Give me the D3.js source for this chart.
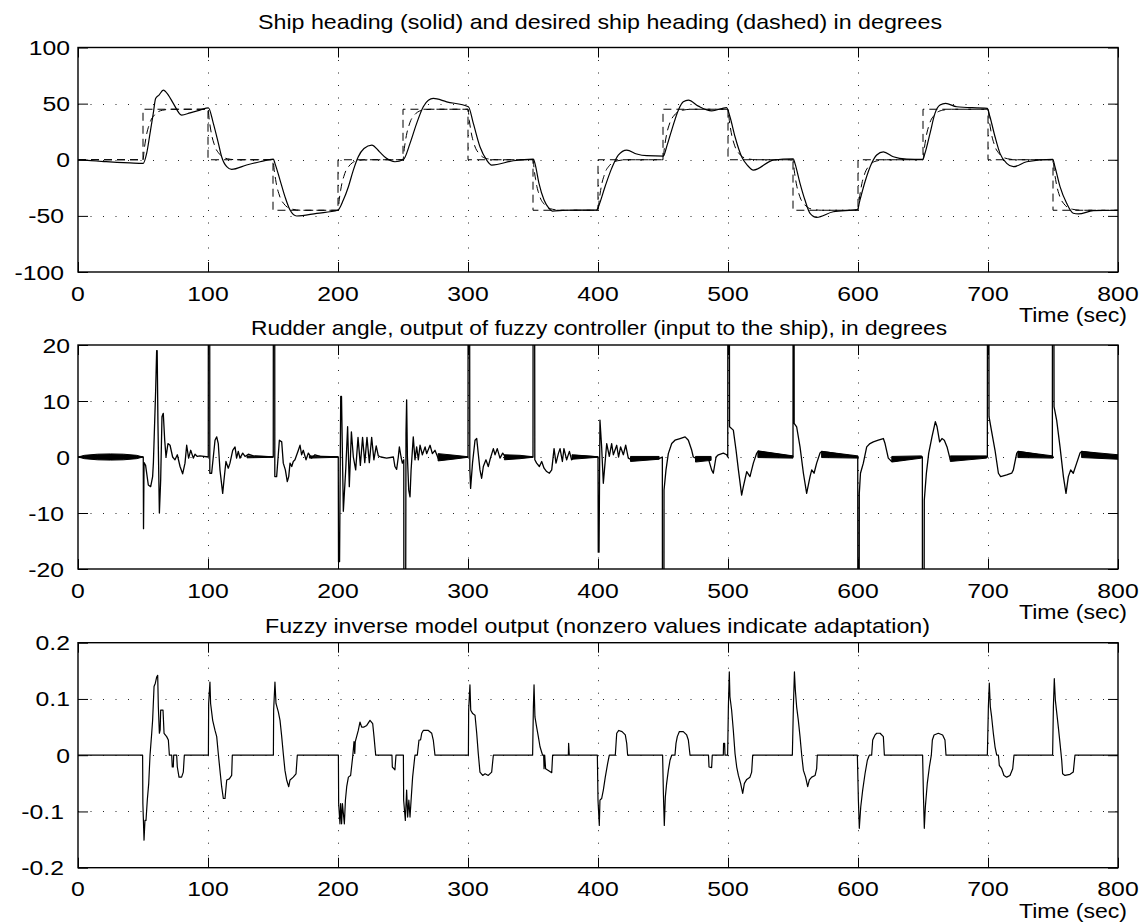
<!DOCTYPE html>
<html><head><meta charset="utf-8">
<script src="https://cdn.jsdelivr.net/npm/d3@7"></script>
<style>
body{margin:0;background:#fff}
svg{display:block}
text{font-family:"Liberation Sans",Arial,Helvetica,sans-serif;fill:#000}
</style>
</head><body>
<svg id="c" width="1140" height="924"></svg>
<script>
// ---------------- DATA ----------------
const xTicks = [0,100,200,300,400,500,600,700,800];
const xTickLabels = ["0","100","200","300","400","500","600","700","800"];
const headingTicks = [-100,-50,0,50,100];
const headingTickLabels = ["-100","-50","0","50","100"];
const rudderTicks = [-20,-10,0,10,20];
const rudderTickLabels = ["-20","-10","0","10","20"];
const inverseTicks = [-0.2,-0.1,0,0.1,0.2];
const inverseTickLabels = ["-0.2","-0.1","0","0.1","0.2"];
const titles = [
  "Ship heading (solid) and desired ship heading (dashed) in degrees",
  "Rudder angle, output of fuzzy controller (input to the ship), in degrees",
  "Fuzzy inverse model output (nonzero values indicate adaptation)"
];
const xAxisLabel = "Time (sec)";

// commanded heading (step changes)
const cmdTimes  = [0,50,100,150,200,250,300,350,400,450,500,550,600,650,700,750,800];
const cmdLevels = [0,45,0,-45,0,45,0,-45,0,45,0,-45,0,45,0,-45,-45];

// reference model output (desired heading)
const refModel = [
[0,0],[50,0],[51,9.9],[52,17.6],[53,23.9],[54.5,30.2],[56,35.1],[58,38.7],[61,42.3],[65,44.1],[72,45],
[100,45],[101,35.1],[102,27.4],[103,21.1],[104.5,14.8],[106,9.9],[108,6.3],[111,2.7],[115,0.9],[122,0],
[150,0],[151,-9.9],[152,-17.6],[153,-23.9],[154.5,-30.2],[156,-35.1],[158,-38.7],[161,-42.3],[165,-44.1],[172,-45],
[200,-45],[201,-35.1],[202,-27.4],[203,-21.1],[204.5,-14.8],[206,-9.9],[208,-6.3],[211,-2.7],[215,-0.9],[222,0],
[250,0],[251,9.9],[252,17.6],[253,23.9],[254.5,30.2],[256,35.1],[258,38.7],[261,42.3],[265,44.1],[272,45],
[300,45],[301,35.1],[302,27.4],[303,21.1],[304.5,14.8],[306,9.9],[308,6.3],[311,2.7],[315,0.9],[322,0],
[350,0],[351,-9.9],[352,-17.6],[353,-23.9],[354.5,-30.2],[356,-35.1],[358,-38.7],[361,-42.3],[365,-44.1],[372,-45],
[400,-45],[401,-35.1],[402,-27.4],[403,-21.1],[404.5,-14.8],[406,-9.9],[408,-6.3],[411,-2.7],[415,-0.9],[422,0],
[450,0],[451,9.9],[452,17.6],[453,23.9],[454.5,30.2],[456,35.1],[458,38.7],[461,42.3],[465,44.1],[472,45],
[500,45],[501,35.1],[502,27.4],[503,21.1],[504.5,14.8],[506,9.9],[508,6.3],[511,2.7],[515,0.9],[522,0],
[550,0],[551,-9.9],[552,-17.6],[553,-23.9],[554.5,-30.2],[556,-35.1],[558,-38.7],[561,-42.3],[565,-44.1],[572,-45],
[600,-45],[601,-35.1],[602,-27.4],[603,-21.1],[604.5,-14.8],[606,-9.9],[608,-6.3],[611,-2.7],[615,-0.9],[622,0],
[650,0],[651,9.9],[652,17.6],[653,23.9],[654.5,30.2],[656,35.1],[658,38.7],[661,42.3],[665,44.1],[672,45],
[700,45],[701,35.1],[702,27.4],[703,21.1],[704.5,14.8],[706,9.9],[708,6.3],[711,2.7],[715,0.9],[722,0],
[750,0],[751,-9.9],[752,-17.6],[753,-23.9],[754.5,-30.2],[756,-35.1],[758,-38.7],[761,-42.3],[765,-44.1],[772,-45],
[800,-45]
];

// actual ship heading
const heading = [
[0,0],[10,-0.8],[20,-1.6],[30,-2.3],[40,-2.8],[50.2,-3.2],
[52.8,5.6],[55.4,23.5],[57.9,41.3],[59.7,54.6],[62.3,57.6],[65.6,62],[69.5,57.6],[73.3,50.2],[79.7,39.8],[86.2,41.8],[93.8,44.2],[100.3,46.3],
[104.1,32.4],[108,14.6],[110.5,2.7],[114.4,-6.2],[118.2,-8.6],[129.7,-4.7],[140,-1.8],[150.3,0.5],
[151.5,-3.2],[155.4,-18.1],[159.2,-32.9],[163.1,-44.8],[168.2,-50.1],[183.6,-47.7],[199.8,-45],
[204.1,-35.9],[208,-24],[211.8,-9.2],[215.6,2.7],[220,10],[226,13.1],[232,7],[237,1.5],[243.8,-1.8],[250.2,0],
[255.4,14.6],[260.5,32.4],[265.6,47.2],[269.5,53.1],[273.3,54.6],[283.6,51.6],[300.3,47.2],
[304.1,32.4],[309.2,11.6],[314.4,-0.3],[318.2,-4.7],[334.9,-0.9],[350.3,0.5],
[351.5,-3.2],[354.6,-21],[358.5,-35.9],[362.3,-43.3],[364.9,-45.7],[375.2,-45],[399,-44.8],
[400.3,-41.8],[405.4,-24],[410.5,-7.7],[415.6,4.2],[422.1,8.6],[429.8,5.1],[437.5,3.6],[450.3,3.3],
[452.8,11.6],[456.7,26.4],[461.8,44.2],[465.6,51.6],[469.5,53.1],[477.2,47.8],[487.4,43.6],[498.9,46.4],
[501.5,38.3],[505.4,20.5],[510.5,2.7],[515,-5],[519.5,-9.2],[534.8,-0.3],[550.2,0.9],
[551.5,-3.2],[555.4,-21],[559.2,-35.9],[563.1,-47.7],[568.2,-51.3],[581,-46.3],[599.5,-44.5],
[601.5,-35.9],[605.4,-19.6],[610.5,-3.2],[614.4,4.2],[619.5,7.1],[627.2,2.7],[637.5,0.6],[649.8,0.3],
[651.5,5.7],[655.4,23.5],[659.2,41.3],[663.1,48.7],[667.4,50.2],[675.9,47.2],[699.5,45.7],
[701.5,38.3],[705.4,20.5],[709.2,5.7],[714.4,-3.2],[719.5,-6.2],[729.8,-1.8],[749.8,0.3],
[751.5,-6.2],[755.4,-24],[760.5,-38.8],[765.6,-47.7],[769.5,-48.3],[781,-45.4],[800,-45]
];

// rudder angle (saturated spikes go off-scale)
const rudder = [
[0,0],[50.2,0],[50.4,-12.8],[50.8,-1],[52,-1.5],[54.1,-5],[55.9,-5.3],[57.4,-3.5],[58,-1],[58.7,4.2],[59.7,11.6],[60.5,19],[60.9,19],[61.5,6],[62.6,-10],[63.6,-4.1],[64.6,7.2],[65.6,7.8],[66.7,3],[67.7,0],[69.2,2.4],[70.8,2.1],[72.8,0],[74.6,-0.5],[76.4,0.4],[78.5,-1.7],[80.5,-3],[82.3,-1.1],[83.6,2.1],[85.1,-0.2],[86.7,1.2],[88.7,-0.2],[90,0.5],[91.8,0.1],[93.8,0.2],[100.2,0],
[100.4,80],[101.2,80],[101.4,-2.9],[102.8,-2.9],[105.4,3],[106.7,3.6],[107.9,2.4],[109.2,-2.3],[111.3,-6.5],[112.3,-4.1],[113.8,-0.8],[115.6,-2],[116.9,-1.1],[119,1.2],[120.8,1.8],[122,-0.2],[123.3,1],[124.6,-0.2],[126.7,0.7],[128.5,0.1],[131,0.5],[134.9,0.2],[150.2,0],
[150.4,80],[151.2,80],[151.4,-3.5],[152.8,-3.5],[154.9,3],[156.7,2.7],[157.9,-1.1],[159.5,-2.3],[161,-4.4],[162.1,-3.5],[163.1,-1.1],[164.4,-1.7],[165.6,-0.8],[166.9,-0.5],[169.5,1.2],[170.8,2.1],[172,0.4],[173.3,1.2],[175.4,-0.5],[177.2,0.7],[179.7,-0.2],[182.3,0.4],[186.2,0.1],[200.2,0],
[200.4,-18.7],[201.2,-18.7],[202.1,10.8],[202.7,10.8],[204.1,-9.7],[206,-2],[207.4,5.4],[208.7,-5.3],[210.3,4.5],[211.8,0],[213.6,-2.3],[215.4,3.5],[217.2,-1.5],[218.9,3.5],[220.6,-1],[222.3,3.5],[224.1,-1],[225.9,3.5],[227.6,-0.5],[229.4,2],[231,0.2],[233,0],[237.4,-0.2],[242.6,0],[243.8,-1.7],[245.1,-2.2],[246.4,0],[247.2,1.8],[248.5,0],[249.5,-1.1],[250.6,-0.5],
[250.8,-80],[251.6,-80],[252.3,4.2],[252.8,10.2],[253.4,0],[254.4,-5.9],[255.4,-7.1],[256.2,-2.4],[257.9,3.6],[259.2,-0.5],[260.5,1.8],[261.8,-0.5],[263.1,2.1],[264.9,0.4],[267,1.8],[268.2,0.6],[270.8,2.1],[272.6,0.6],[274.6,1.2],[277.2,-0.3],[300,0],
[300.2,80],[301,80],[301.4,-2],[302,-5.6],[303.5,-1],[305.4,3],[306.7,3.3],[307.9,0.6],[309.2,-2.3],[310.5,-3.8],[311.8,-1.7],[313.8,-0.5],[315.6,-1.7],[316.9,-0.5],[319.5,1.5],[320.8,0.4],[322.5,1.5],[324.6,-0.2],[326.7,0.7],[328.5,0.1],[350,0],
[350.2,80],[351,80],[351.4,-0.5],[352.8,-1.1],[354.9,-1.7],[356.7,-0.8],[358.5,-2],[360.5,-2.6],[362.6,-2.9],[364.4,-2.3],[366.2,1.5],[367.7,-1.1],[369.5,0.6],[370.8,1.5],[372.6,-0.8],[373.8,1.5],[375.9,-0.5],[378,1],[379.7,-0.5],[382,0.3],[400,0],
[400.2,-17],[400.8,-17],[401.5,6.6],[402.8,1.8],[404.1,-4.7],[405.4,-1.1],[406.7,2.4],[408.7,0.1],[410.5,2.4],[411.8,0.4],[414.4,2.1],[415.8,0],[417.4,1.8],[419.5,0.4],[421.3,2.1],[423.3,-0.2],[425.9,-0.5],[447,-0.3],[449.5,0],
[449.7,-80],[450.5,-80],[450.8,-5.9],[452.3,-2.3],[454.1,0.6],[456.7,2.4],[459.2,3],[463.1,3.3],[467,3.6],[469.5,3],[472.1,1.2],[473.3,0],[475.9,-0.3],[484.9,-0.3],[487.4,-2.3],[488.7,-2.9],[490.8,0],[492.6,0.4],[496.4,0.7],[499,0.4],[499.8,0],
[500,80],[500.8,80],[501.2,5.4],[504.1,4.8],[506.2,1.2],[508,-2.3],[510.5,-6.8],[511.8,-5.3],[514.4,-2.6],[516.9,-3.5],[519.5,-1.1],[522.1,0.7],[523.3,1],[550,0.1],
[550.2,80],[550.7,80],[550.9,6],[552.8,5.4],[555.4,1.8],[558,-2.9],[560.5,-6.5],[563.1,-3.5],[564.4,-2.3],[566.2,-2.9],[568.2,-1.1],[570.8,0.7],[572.1,1],[599.8,0],
[600,-80],[600.7,-80],[601,-6.5],[601.9,-2.9],[604.1,-1.1],[606.7,1.8],[609.2,2.4],[611.8,2.7],[615.6,3],[619.5,3.3],[620.8,2.4],[623.3,-0.2],[625.9,-0.8],[649.5,0],
[649.7,-80],[650.4,-80],[651,-7.7],[652.6,-2.9],[654.4,0.7],[656.9,3.6],[659.5,6.3],[660.8,5.4],[662.8,2.7],[664.6,3.3],[666.4,3],[668.5,1.8],[671,-0.5],[699.5,0],
[699.7,80],[700.4,80],[700.8,7.2],[702.6,4.8],[705.4,1.2],[708,-2.9],[709.7,-3.5],[714.4,-3.2],[718.2,-2.9],[719.5,-2.3],[722.1,0.7],[723.3,1],[749.5,0],
[749.7,80],[750.4,80],[750.8,9],[752.8,6.6],[755.4,1.8],[758,-3.5],[760,-6.5],[761.8,-3.5],[763.6,-2.3],[765.6,-2.9],[768.2,-1.1],[770.8,0.7],[772.1,1],[800,0]
];

// fast rudder chatter envelopes: [time, low, high]
const rudderBands = [
 [[0,0,0],[5,-0.3,0.3],[15,-0.5,0.5],[25,-0.55,0.55],[35,-0.5,0.5],[45,-0.3,0.3],[50,0,0]],
 [[130,-0.15,0.2],[150,-0.05,0.05]],
 [[178,-0.2,0.2],[200,-0.05,0.05]],
 [[277,-0.7,0.6],[290,-0.35,0.3],[300,-0.05,0.05]],
 [[328,-0.5,0.4],[340,-0.3,0.3],[350,-0.05,0.05]],
 [[380,-0.4,0.4],[400,-0.05,0.05]],
 [[425,-0.8,0.1],[447,-0.4,0.1]],
 [[475,-0.9,0.1],[487,-0.6,0.1]],
 [[523,-0.1,1.1],[550,-0.2,0.2]],
 [[572,-0.1,1.0],[600,-0.2,0.2]],
 [[626,-0.9,0.1],[649,-0.2,0.2]],
 [[671,-0.8,0.2],[699,-0.2,0.2]],
 [[723,-0.1,1.0],[750,-0.2,0.2]],
 [[772,-0.1,1.0],[800,-0.4,0.4]]
];

// fuzzy inverse model output
const inverse = [
[0,0],[49.7,0],[49.9,-0.086],[50.8,-0.151],[51.5,-0.116],[52.3,-0.116],[53.3,-0.08],[54.4,-0.05],[55.4,0],[56.7,0.039],[57.4,0.062],[58.5,0.122],[59.5,0.128],[60.5,0.139],[61.3,0.142],[61.8,0.086],[62.6,0.039],[63.2,0.045],[63.6,0.08],[65.4,0.08],[66.2,0.039],[68.2,0.033],[69.5,0.027],[70.3,0],[72.1,0],[72.5,-0.021],[73.3,-0.021],[73.6,0],[75.9,0],[76.4,-0.021],[77.7,-0.039],[79.7,-0.039],[81,-0.03],[81.8,0],
[100.3,0],[100.5,0.092],[101.5,0.13],[102,0.092],[103.6,0.062],[105.4,0.044],[106.7,0.033],[107.9,0.003],[109.2,-0.027],[110.5,-0.056],[111.8,-0.077],[113.1,-0.077],[114.4,-0.044],[116.4,-0.042],[118.2,-0.036],[118.7,0],
[150.3,0],[150.5,0.08],[151.5,0.13],[152.3,0.092],[154.1,0.077],[155.4,0.062],[156.7,0.033],[157.9,0.003],[159.2,-0.027],[160.5,-0.044],[162.1,-0.056],[163.1,-0.044],[165.6,-0.039],[167.7,-0.033],[168.7,0],
[200.3,0],[200.5,-0.086],[201.5,-0.122],[202,-0.086],[202.8,-0.122],[203.4,-0.086],[204.9,-0.122],[205.7,-0.08],[206.7,-0.056],[208,-0.039],[209.7,-0.036],[211.3,-0.003],[212.3,0.024],[212.9,0.003],[213.3,0.024],[215.6,0.044],[216.9,0.059],[218.2,0.05],[220,0.05],[222.1,0.053],[224.6,0.062],[226.7,0.056],[227.7,0.033],[229,0],
[241.5,0],[241.8,-0.021],[243.8,-0.026],[244.6,0],
[250.3,0],[250.5,-0.08],[251.8,-0.116],[252.8,-0.062],[253.6,-0.11],[254.5,-0.08],[255.4,-0.11],[256.4,-0.074],[257.4,-0.039],[258.5,-0.015],[259.2,0],[261,0],[262.3,0.027],[263.5,0.027],[264.4,0.039],[265.6,0.044],[269.5,0.044],[272.1,0.039],[273.3,0.027],[274.6,0],
[300.3,0],[300.5,0.08],[301.5,0.125],[302.1,0.08],[303.6,0.074],[305.4,0.071],[306.7,0.039],[307.9,0.003],[309.2,-0.03],[311.3,-0.036],[313.1,-0.033],[315.6,-0.036],[318.2,-0.03],[319.5,0],
[349.7,0],[350.3,0.086],[350.8,0.125],[351.5,0.068],[352.8,0.05],[354.1,0.033],[355.4,0.015],[357.4,0],[358.2,0],[358.5,-0.024],[359,0],[359.7,-0.024],[361.8,-0.027],[364.4,-0.031],[365.1,0],
[377.2,0],[377.4,0.021],[377.9,0],
[399.5,0],[400,-0.08],[401,-0.125],[401.5,-0.08],[402.8,-0.077],[404.1,-0.062],[405.6,-0.039],[407.4,-0.015],[408.7,0],[413.3,0],[414.4,0.039],[416,0.044],[418.5,0.042],[421,0.036],[422.1,0.021],[422.8,0],
[449.7,0],[450.3,-0.068],[451,-0.125],[451.8,-0.074],[452.8,-0.05],[454.1,-0.027],[455.4,-0.009],[456.7,0],[459.2,0],[460,0.021],[461,0.033],[462.6,0.042],[465.6,0.042],[468.2,0.036],[469.5,0.027],[470.8,0],
[485,0],[485.4,-0.021],[487.4,-0.022],[487.9,0],
[496.4,0],[496.6,0.021],[497.4,0.021],[497.7,0],
[499.7,0],[500.3,0.086],[501,0.148],[501.5,0.104],[502.8,0.08],[504.1,0.044],[505.4,0.003],[506.7,-0.021],[508,-0.036],[509.7,-0.05],[511.3,-0.068],[512.6,-0.05],[514.4,-0.043],[516.9,-0.039],[518.2,-0.03],[519,0],
[549.5,0],[550.3,0.086],[551.1,0.148],[551.8,0.116],[552.8,0.086],[554.1,0.062],[555.4,0.033],[556.7,0],[558,-0.027],[559.7,-0.039],[561.3,-0.056],[562.6,-0.044],[564.4,-0.039],[567,-0.036],[568.2,-0.024],[568.7,0],
[599.5,0],[600.3,-0.08],[601,-0.13],[602.1,-0.092],[603.6,-0.062],[605.4,-0.033],[607.2,-0.009],[608.7,0],[610.5,0],[611.3,0.027],[613.1,0.036],[614.4,0.039],[617,0.039],[619.5,0.033],[620.3,0],
[649.7,0],[650.3,-0.068],[651,-0.13],[651.8,-0.092],[653.3,-0.05],[654.9,-0.021],[656.4,0],[657.2,0.027],[658.5,0.036],[661.8,0.039],[665.1,0.036],[666.9,0.027],[667.7,0],
[699.5,0],[700.3,0.086],[701,0.128],[701.8,0.086],[702.8,0.068],[704.1,0.039],[705.4,0.015],[706.7,0],[708,0],[708.7,-0.018],[710.5,-0.024],[712.3,-0.036],[714.4,-0.039],[716.9,-0.036],[719,-0.024],[720,0],
[749.7,0],[750.3,0.086],[751,0.136],[751.8,0.098],[752.8,0.077],[754.1,0.05],[755.4,0.021],[756.7,-0.009],[757.4,-0.033],[759.2,-0.036],[763.1,-0.034],[765.6,-0.03],[766.9,0],
[800,0]
];

// ---------------- DRAWING ----------------
const svg = d3.select("#c");
const L = 78, R = 1118;
const x = d3.scaleLinear().domain([0,800]).range([L,R]);

const panels = [
  {top:47.5, bottom:272, ticks:headingTicks, labels:headingTickLabels, title:titles[0], titleX:258, titleLen:684, titleY:29},
  {top:345,  bottom:569, ticks:rudderTicks,  labels:rudderTickLabels,  title:titles[1], titleX:251, titleLen:696, titleY:335},
  {top:642.7,bottom:867.7,ticks:inverseTicks,labels:inverseTickLabels, title:titles[2], titleX:265, titleLen:665, titleY:633}
];

const FS = 21, SX = 1.18;

panels.forEach((p,i)=>{
  const y = d3.scaleLinear().domain([p.ticks[0], p.ticks[p.ticks.length-1]]).range([p.bottom,p.top]);
  p.y = y;
  const g = svg.append("g");

  const cid = "clip"+i;
  svg.append("clipPath").attr("id",cid).append("rect")
    .attr("x",L).attr("y",p.top).attr("width",R-L).attr("height",p.bottom-p.top);

  // grid
  const grid = g.append("g").attr("stroke","#000").attr("stroke-width",1).attr("stroke-dasharray","1,11.5").attr("opacity",0.85);
  xTicks.slice(1,-1).forEach(t=>{
    grid.append("line").attr("x1",Math.round(x(t))+0.5).attr("x2",Math.round(x(t))+0.5).attr("y1",p.top).attr("y2",p.bottom);
  });
  p.ticks.slice(1,-1).forEach(v=>{
    grid.append("line").attr("y1",Math.round(y(v))+0.5).attr("y2",Math.round(y(v))+0.5).attr("x1",L).attr("x2",R);
  });

  const data = g.append("g").attr("clip-path",`url(#${cid})`);
  p.data = data;

  // inward ticks on all four sides
  const mk = (axis, tr) => {
    const a = g.append("g").attr("transform",tr).call(axis);
    a.select(".domain").remove();
    a.selectAll("line").attr("stroke","#000").attr("stroke-width",1);
    a.selectAll("text").remove();
  };
  mk(d3.axisBottom(x).tickValues(xTicks).tickSize(-10).tickFormat(""), `translate(0,${p.bottom})`);
  mk(d3.axisTop(x).tickValues(xTicks).tickSize(-10).tickFormat(""), `translate(0,${p.top})`);
  mk(d3.axisLeft(y).tickValues(p.ticks).tickSize(-10).tickFormat(""), `translate(${L},0)`);
  mk(d3.axisRight(y).tickValues(p.ticks).tickSize(-10).tickFormat(""), `translate(${R},0)`);

  // frame
  g.append("rect").attr("x",L).attr("y",p.top).attr("width",R-L).attr("height",p.bottom-p.top)
    .attr("fill","none").attr("stroke","#000").attr("stroke-width",1.4);

  // x tick labels
  xTicks.forEach((t,k)=>{
    g.append("text").attr("transform",`translate(${x(t)},${p.bottom+28.5}) scale(${SX},1)`)
      .attr("text-anchor","middle").attr("font-size",FS).text(xTickLabels[k]);
  });
  // y tick labels
  p.ticks.forEach((v,k)=>{
    const lab = p.labels[k];
    const xr = lab.startsWith("-") ? 64 : 70;
    g.append("text").attr("transform",`translate(${xr},${y(v)+7.5}) scale(${SX},1)`)
      .attr("text-anchor","end").attr("font-size",FS).text(lab);
  });
  // title
  g.append("text").attr("x",p.titleX).attr("y",p.titleY).attr("font-size",FS)
    .attr("textLength",p.titleLen).attr("lengthAdjust","spacingAndGlyphs").text(p.title);
  // time label
  g.append("text").attr("x",1019).attr("y",p.bottom+50).attr("font-size",FS)
    .attr("textLength",108).attr("lengthAdjust","spacingAndGlyphs").text(xAxisLabel);
});

// ----- panel 1: heading -----
{
  const p = panels[0], y = p.y;
  const cmdLine = d3.line().x(d=>x(d[0])).y(d=>y(d[1])).curve(d3.curveStepAfter);
  p.data.append("path").datum(cmdTimes.map((t,k)=>[t,cmdLevels[k]]))
    .attr("d",cmdLine).attr("fill","none").attr("stroke","#000").attr("stroke-width",1).attr("stroke-dasharray","8,5");
  const smooth = d3.line().x(d=>x(d[0])).y(d=>y(d[1])).curve(d3.curveMonotoneX);
  p.data.append("path").datum(refModel).attr("d",smooth)
    .attr("fill","none").attr("stroke","#000").attr("stroke-width",1).attr("stroke-dasharray","8,5");
  p.data.append("path").datum(heading).attr("d",smooth)
    .attr("fill","none").attr("stroke","#000").attr("stroke-width",1.2);
}
// ----- panel 2: rudder -----
{
  const p = panels[1], y = p.y;
  const area = d3.area().x(d=>x(d[0])).y0(d=>y(d[1])).y1(d=>y(d[2]));
  rudderBands.forEach(b=>{
    p.data.append("path").datum(b).attr("d",area).attr("fill","#000").attr("stroke","#000").attr("stroke-width",1);
  });
  const line = d3.line().x(d=>x(d[0])).y(d=>y(d[1]));
  p.data.append("path").datum(rudder).attr("d",line)
    .attr("fill","none").attr("stroke","#000").attr("stroke-width",1.3).attr("stroke-linejoin","round");
}
// ----- panel 3: inverse model -----
{
  const p = panels[2], y = p.y;
  const line = d3.line().x(d=>x(d[0])).y(d=>y(d[1]));
  p.data.append("path").datum(inverse).attr("d",line)
    .attr("fill","none").attr("stroke","#000").attr("stroke-width",1.2).attr("stroke-linejoin","round");
}
</script>
</body></html>
